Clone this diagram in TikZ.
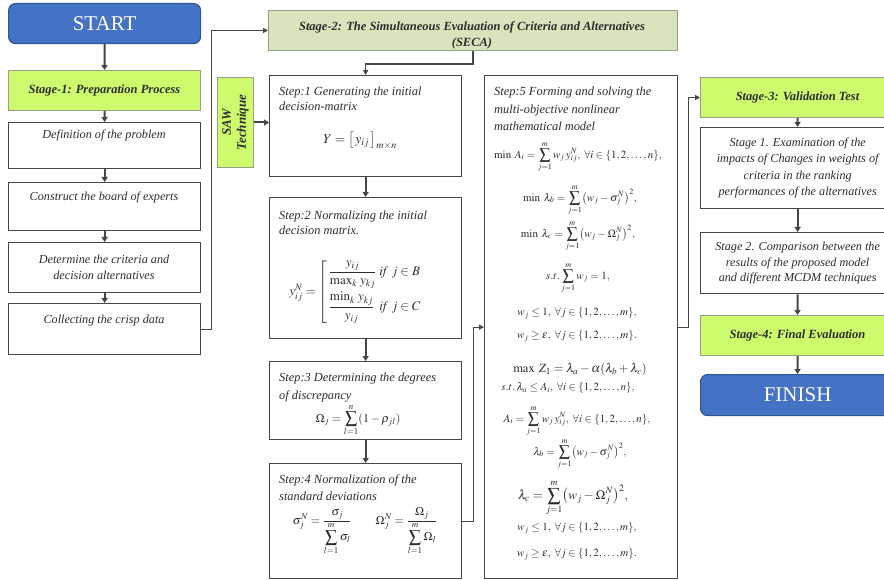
\documentclass[tikz,border=0pt]{standalone}
\usepackage{amsmath}
\usepackage{mathptmx}
\usepackage{fontspec}
\setmainfont{Liberation Serif}
\usetikzlibrary{arrows.meta}
\definecolor{bord}{RGB}{70,70,70}
\definecolor{limeg}{RGB}{206,250,110}
\definecolor{oliveg}{RGB}{216,228,188}
\definecolor{greenbd}{RGB}{150,160,140}
\definecolor{blueb}{RGB}{68,114,196}
\definecolor{bluedk}{RGB}{47,85,151}
\definecolor{txt}{RGB}{45,45,45}
\begin{document}
\begin{tikzpicture}[x=1pt,y=-1pt,
  box/.style={draw=bord, line width=1.3pt, fill=white, anchor=north west, inner sep=0pt, text=txt},
  gbox/.style={box, draw=greenbd, line width=1pt, fill=limeg, font=\fontsize{12.5}{14}\selectfont\bfseries\itshape},
  obox/.style={box, draw=greenbd, line width=1pt, fill=oliveg},
  bbox/.style={box, draw=bluedk, line width=1.2pt, fill=blueb, rounded corners=7pt, text=white, font=\fontsize{21}{23}\selectfont},
  lbl/.style={inner sep=0pt, text=txt, font=\fontsize{12.2}{16}\selectfont\itshape, align=center},
  tlbl/.style={inner sep=0pt, anchor=north west, text=txt, font=\fontsize{12.4}{16}\selectfont\itshape, align=left},
  fml/.style={inner sep=0pt, text=txt, font=\fontsize{11}{13}\selectfont},
  sarr/.style={line width=2pt, draw=bord, -{Triangle[length=5pt,width=6pt]}},
  larr/.style={line width=1.3pt, draw=bord, -{Triangle[length=5pt,width=5pt]}}]
\useasboundingbox (0,0) rectangle (884,580);
\clip (0,0) rectangle (884,580);

% ---------- left column ----------
\node[bbox, minimum width=192pt, minimum height=40pt] (start) at (8,3) {START};
\node[gbox, minimum width=192pt, minimum height=40pt] (st1) at (8,70) {Stage-1: Preparation Process};
\node[box, minimum width=192pt, minimum height=46pt] (def) at (8,122) {};
\node[box, minimum width=192pt, minimum height=48pt] (con) at (8,182) {};
\node[box, minimum width=192pt, minimum height=50pt] (det) at (8,242) {};
\node[box, minimum width=192pt, minimum height=51pt] (col) at (8,303) {};
\node[lbl] (defT) at (104,136) {Definition of the problem};
\node[lbl] (conT) at (104,198) {Construct the board of experts};
\node[lbl] (detT) at (104,267) {Determine the criteria and\\decision alternatives};
\node[lbl] (colT) at (104,321) {Collecting the crisp data};
\draw[sarr] (start) -- (st1);
\draw[sarr] (st1) -- (def);
\draw[sarr] (def) -- (con);
\draw[sarr] (con) -- (det);
\draw[sarr] (det) -- (col);

% ---------- stage 2 ----------
\node[obox, minimum width=409pt, minimum height=40pt] (st2) at (268,10) {};
\node[inner sep=0pt, text=txt, font=\fontsize{12.5}{16}\selectfont\bfseries\itshape, align=center] (st2T) at (472,35)
  {Stage-2: The Simultaneous Evaluation of Criteria and Alternatives\\(SECA)};
\draw[larr] (col.east) -- ++(10,0) |- (st2.west);

\node[gbox, minimum width=36pt, minimum height=90pt] (saw) at (217,77) {};
\node[inner sep=0pt, rotate=90, text=txt, font=\fontsize{13}{15}\selectfont\bfseries\itshape, align=center] (sawT) at (saw.center) {SAW\\Technique};

\node[box, minimum width=192pt, minimum height=101pt] (s1) at (269,75) {};
\node[box, minimum width=192pt, minimum height=141pt] (s2) at (269,197) {};
\node[box, minimum width=192pt, minimum height=78pt] (s3) at (269,361) {};
\node[box, minimum width=192pt, minimum height=115pt] (s4) at (269,463) {};
\node[box, minimum width=193pt, minimum height=503pt] (s5) at (484,75) {};

\draw[larr] (st2.south) -- ++(0,13) -| (s1.north);
\draw[sarr] (saw.east) -- (saw.east -| s1.west);
\draw[sarr] (s1) -- (s2);
\draw[sarr] (s2) -- (s3);
\draw[sarr] (s3) -- (s4);
\draw[larr] (s4.east) -- ++(11,0) |- (s5.west);

% step texts
\node[tlbl, font=\fontsize{12.4}{15}\selectfont\itshape] (s1T) at (279,87) {Step:1 Generating the initial\\decision-matrix};
\node[fml, font=\fontsize{13.5}{15}\selectfont] (s1F) at (360,141) {$Y=\bigl[\,y_{ij}\,\bigr]_{m\times n}$};

\node[tlbl, font=\fontsize{12.4}{15}\selectfont\itshape] (s2T) at (279,211) {Step:2 Normalizing the initial\\decision matrix.};
\node[fml, font=\fontsize{13}{15}\selectfont] (s2F) at (358,292) {$y_{ij}^{N}=\left[\begin{array}{@{\,}l@{\;}l}
  \dfrac{y_{ij}}{\max_k\, y_{kj}} & \mathit{if}\ j\in B\\[12pt]
  \dfrac{\min_k\, y_{kj}}{y_{ij}} & \mathit{if}\ j\in C
  \end{array}\right.$};

\node[tlbl, font=\fontsize{12.4}{18}\selectfont\itshape] (s3T) at (279,373) {Step:3 Determining the degrees\\of discrepancy};
\node[fml, font=\fontsize{12}{14}\selectfont] (s3F) at (358,420) {$\Omega_j=\displaystyle\sum_{l=1}^{n}(1-\rho_{jl})$};

\node[tlbl, font=\fontsize{12.4}{17}\selectfont\itshape] (s4T) at (279,475) {Step:4 Normalization of the\\standard deviations};
\node[fml, font=\fontsize{12}{14}\selectfont] (s4F) at (365,531) {$\sigma_j^{N}=\dfrac{\sigma_j}{\displaystyle\sum_{l=1}^{m}\sigma_l}\qquad
  \Omega_j^{N}=\dfrac{\Omega_j}{\displaystyle\sum_{l=1}^{m}\Omega_l}$};

\node[tlbl, font=\fontsize{12.4}{17.5}\selectfont\itshape] (s5T) at (494,87) {Step:5 Forming and solving the\\multi-objective nonlinear\\mathematical model};
\node[fml] (f1) at (578,157) {$\min\; A_i=\displaystyle\sum_{j=1}^{m} w_j\,y_{ij}^{N},\ \forall i\in\{1,2,\ldots,n\},$};
\node[fml] (f2) at (580,200) {$\min\; \lambda_b=\displaystyle\sum_{j=1}^{m}\bigl(w_j-\sigma_j^{N}\bigr)^2,$};
\node[fml] (f3) at (578,236) {$\min\; \lambda_c=\displaystyle\sum_{j=1}^{m}\bigl(w_j-\Omega_j^{N}\bigr)^2,$};
\node[fml] (f4) at (578,278) {$s.t.\displaystyle\sum_{j=1}^{m} w_j=1,$};
\node[fml] (f5) at (577,313) {$w_j\le 1,\ \forall j\in\{1,2,\ldots,m\},$};
\node[fml] (f6) at (577,336) {$w_j\ge \varepsilon,\ \forall j\in\{1,2,\ldots,m\}.$};
\node[fml, font=\fontsize{12.5}{14}\selectfont] (f7) at (580,369) {$\max\; Z_1=\lambda_a-\alpha(\lambda_b+\lambda_c)$};
\node[fml] (f8) at (568,388) {$s.t.\,\lambda_a\le A_i,\ \forall i\in\{1,2,\ldots,n\},$};
\node[fml] (f9) at (577,421) {$A_i=\displaystyle\sum_{j=1}^{m} w_j\,y_{ij}^{N},\ \forall i\in\{1,2,\ldots,n\},$};
\node[fml] (f10) at (580,454) {$\lambda_b=\displaystyle\sum_{j=1}^{m}\bigl(w_j-\sigma_j^{N}\bigr)^2,$};
\node[fml, font=\fontsize{13}{15}\selectfont] (f11) at (573,498) {$\lambda_c=\displaystyle\sum_{j=1}^{m}\bigl(w_j-\Omega_j^{N}\bigr)^2,$};
\node[fml] (f12) at (577,528) {$w_j\le 1,\ \forall j\in\{1,2,\ldots,m\},$};
\node[fml] (f13) at (577,554) {$w_j\ge \varepsilon,\ \forall j\in\{1,2,\ldots,m\}.$};

% ---------- right column ----------
\node[gbox, minimum width=194pt, minimum height=40pt] (st3) at (700,77) {Stage-3: Validation Test};
\node[box, minimum width=194pt, minimum height=81pt, font=\fontsize{12.2}{16.5}\selectfont\itshape, align=center] (r1) at (700,127)
  {Stage 1. Examination of the\\impacts of Changes in weights of\\criteria in the ranking\\performances of the alternatives};
\node[box, minimum width=194pt, minimum height=61pt, font=\fontsize{12.2}{15.5}\selectfont\itshape, align=center] (r2) at (700,232)
  {Stage 2. Comparison between the\\results of the proposed model\\and different MCDM techniques};
\node[gbox, minimum width=194pt, minimum height=40pt] (st4) at (700,315) {Stage-4: Final Evaluation};
\node[bbox, minimum width=194pt, minimum height=41pt] (fin) at (700,374) {FINISH};

\draw[larr] (s5.east) -- ++(10,0) |- (st3.west);
\draw[sarr] (st3) -- (r1);
\draw[sarr] (r1) -- (r2);
\draw[sarr] (r2) -- (st4);
\draw[sarr] (st4) -- (fin);
\end{tikzpicture}
\end{document}
